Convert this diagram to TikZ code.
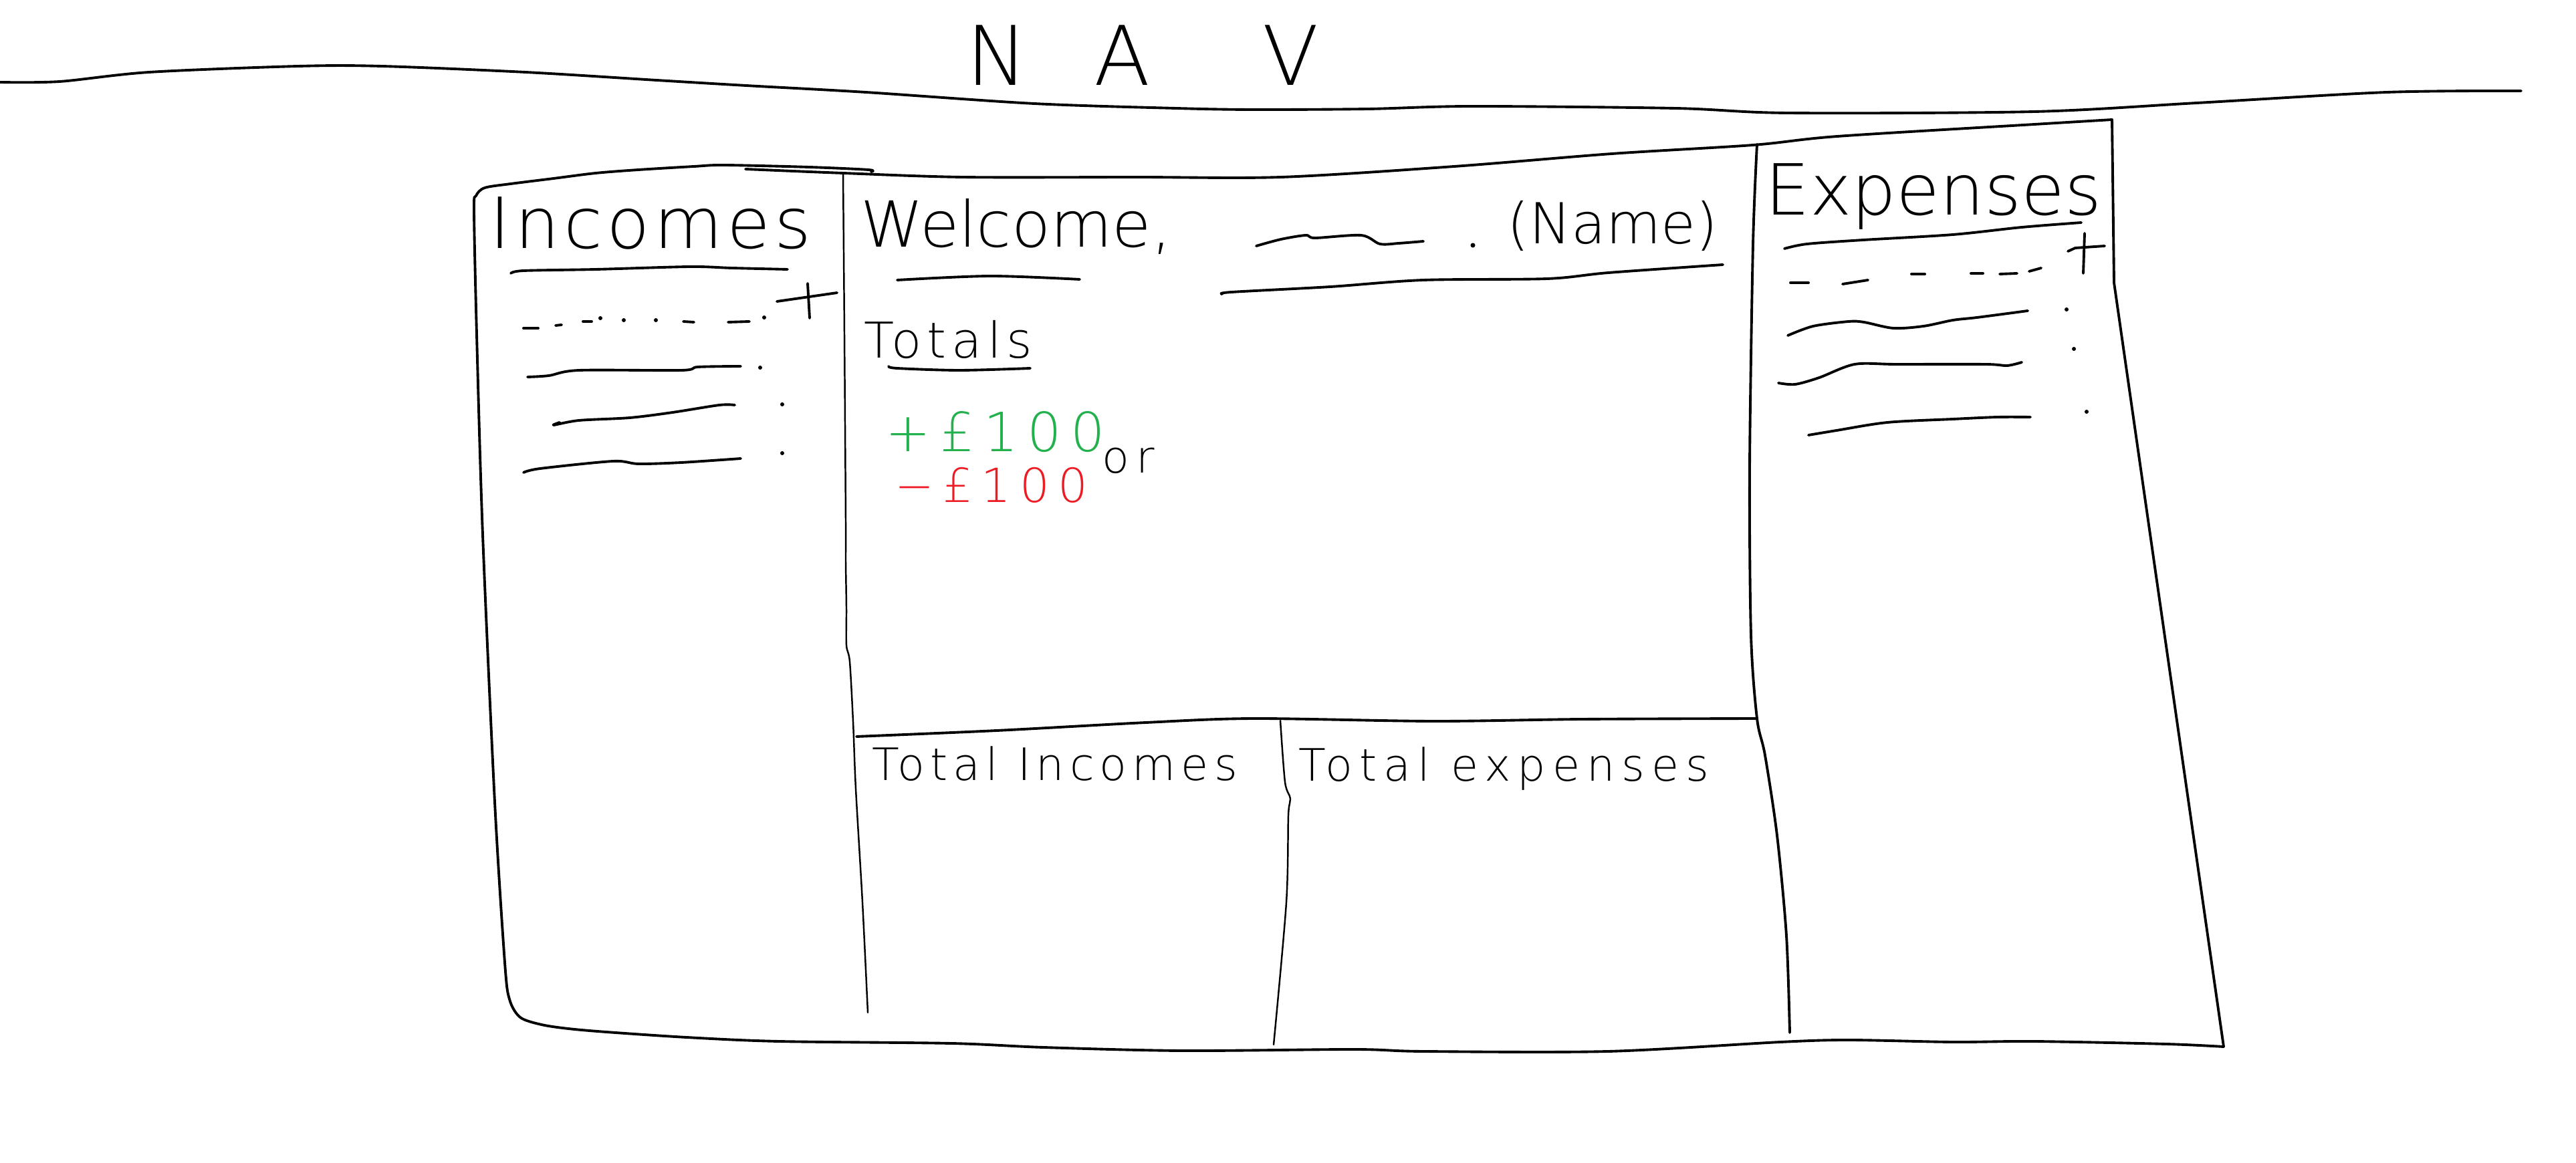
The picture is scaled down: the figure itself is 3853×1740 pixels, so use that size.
\documentclass[tikz,border=0pt]{standalone}
\usepackage{fontspec,xcolor}
\newfontfamily\sketchfont{DejaVuSans-ExtraLight.ttf}
\definecolor{paintgreen}{RGB}{34,177,76}
\definecolor{paintred}{RGB}{237,28,36}

\begin{document}
\begin{tikzpicture}[x=0.01cm,y=-0.01cm,
  pen/.style={line width=1.1pt,line cap=round,line join=round},
  thinpen/.style={line width=0.7pt,line cap=round,line join=round},
  word/.style={inner sep=0pt,anchor=base west},
  head/.style={word,font=\sketchfont\fontsize{30}{34}\selectfont},
  small/.style={word,font=\sketchfont\fontsize{19}{22}\selectfont\addfontfeature{LetterSpace=12}}]
 \useasboundingbox (0,0) rectangle (3853,1740);
 % nav bar
 \draw[pen] plot[smooth] coordinates {(0,123) (89,122) (223,108) (446,99) (571,99) (786,108) (982,120) (1116,128) (1295,138) (1547,155) (1759,162) (1874,164) (2046,163) (2200,159) (2506,162) (2674,169) (3043,167) (3286,154) (3570,138) (3771,136)};
 \node[word,anchor=base west,font=\sketchfont\fontsize{35}{40}\selectfont] (nav) at (1445,128) {N\kern0.8em A\kern1.37em V};
 % outer frame
 \draw[pen] plot[smooth] coordinates {(1303,257) (1299,254) (1210,250) (1083,247) (1038,249) (955,254) (891,259) (828,267) (764,275) (725,281) (712,293) (709,315) (713,500) (722,800) (740,1200) (755,1440) (762,1495) (778,1522) (810,1533) (850,1539) (907,1544) (1027,1552) (1165,1558) (1423,1561) (1561,1567) (1768,1572) (2026,1570) (2129,1573) (2405,1573) (2663,1559) (2766,1556) (2921,1559) (3042,1558) (3240,1562) (3326,1566)};
 \draw[pen] plot[smooth] coordinates {(1115,253) (1261,259) (1440,265) (1700,265) (1916,265) (2175,249) (2411,230) (2622,217) (2748,204) (3043,186) (3159,179)} -- (3162,423) -- (3326,1566);
 % panel dividers
 \draw[thinpen] plot[smooth] coordinates {(1261,259) (1263,500) (1265,780) (1265,840) (1266,910) (1266,965) (1271,990) (1276,1080) (1280,1180) (1290,1350) (1298,1515)};
 \draw[pen] plot[smooth] coordinates {(2628,216) (2622,366) (2617,700) (2619,950) (2628,1075) (2640,1130) (2658,1250) (2672,1400) (2677,1545)};
 \draw[pen] plot[smooth] coordinates {(1281,1102) (1491,1093) (1714,1081) (1875,1075) (2143,1079) (2366,1076) (2628,1075)};
 \draw[thinpen] plot[smooth] coordinates {(1915,1078) (1922,1170) (1930,1195) (1927,1220) (1924,1350) (1905,1563)};
 % incomes column
 \node[head,font=\sketchfont\fontsize{30}{34}\selectfont\addfontfeature{LetterSpace=6}] (incomes) at (732,372) {Incomes};
 \draw[pen] plot[smooth] coordinates {(764,409) (783,405) (891,403) (1032,399) (1095,401) (1178,403)};
 \foreach \xa/\ya/\xb/\yb in {783/491/805/491,831/487/840/486,872/481/885/481,1022/481/1038/482,1089/482/1121/481}
  \draw[pen] (\xa,\ya) -- (\xb,\yb);
 \foreach \xa/\ya in {898/476,933/479,981/479,1143/475,1137/550,1170/605,1170/678}
  \fill (\xa,\ya) circle (3);
 \draw[pen] (1208,424) -- (1211,476); \draw[pen] (1162,451) -- (1252,438);
 \draw[pen] plot[smooth] coordinates {(789,564) (821,562) (866,554) (1019,554) (1044,549) (1108,548)};
 \draw[pen] plot[smooth] coordinates {(837,632) (828,636) (866,629) (942,625) (1006,617) (1076,606) (1099,606)};
 \draw[pen] plot[smooth] coordinates {(783,707) (808,701) (917,690) (955,694) (1019,692) (1108,686)};
 % welcome header
 \node[head,font=\sketchfont\fontsize{27}{30}\selectfont] (welcome) at (1287,370) {Welcome,};
 \draw[pen] plot[smooth] coordinates {(1342,419) (1481,413) (1615,418)};
 \draw[pen] plot[smooth] coordinates {(1879,368) (1916,358) (1953,352) (1967,356) (2036,352) (2064,365) (2092,364) (2129,361)};
 \fill (2203,367) circle (3.5);
 \node[head,font=\sketchfont\fontsize{24}{28}\selectfont] (name) at (2254,365) {(Name)};
 \draw[pen] plot[smooth] coordinates {(1828,440) (1842,437) (1990,429) (2129,419) (2314,417) (2406,408) (2577,396)};
 % totals
 \node[word,font=\sketchfont\fontsize{21}{24}\selectfont\addfontfeature{LetterSpace=11}] (totals) at (1292,536) {Totals};
 \draw[pen] plot[smooth] coordinates {(1329,548) (1342,551) (1435,554) (1541,551)};
 \node[word,text=paintgreen,font=\sketchfont\fontsize{23}{26}\selectfont\addfontfeature{LetterSpace=17}] (plus) at (1324,676) {+£100};
 \node[word,font=\sketchfont\fontsize{19}{22}\selectfont\addfontfeature{LetterSpace=15}] (or) at (1648,708) {or};
 \node[word,text=paintred,font=\sketchfont\fontsize{20}{23}\selectfont\addfontfeature{LetterSpace=18}] (minus) at (1338,752) {−£100};
 % bottom boxes
 \node[small] (totalinc) at (1304,1167) {Total Incomes};
 \node[small,font=\sketchfont\fontsize{19}{22}\selectfont\addfontfeature{LetterSpace=15}] (totalexp) at (1942,1168) {Total expenses};
 % expenses column
 \node[head] (expenses) at (2640,322) {Expenses};
 \draw[pen] plot[smooth] coordinates {(2669,372) (2703,365) (2787,359) (2921,351) (3024,340) (3113,333)};
 \foreach \xa/\ya/\xb/\yb in {2678/423/2705/423,2756/425/2794/419,2859/410/2879/410,2948/409/2966/409,2991/410/3017/409,3035/406/3053/401}
  \draw[pen] (\xa,\ya) -- (\xb,\yb);
 \draw[pen] (3118,349) -- (3116,409); \draw[pen] (3093,376) -- (3104,371) -- (3148,368);
 \draw[pen] plot[smooth] coordinates {(2674,502) (2712,488) (2765,481) (2788,482) (2832,491) (2877,488) (2921,479) (2957,475) (3033,465)};
 \draw[pen] plot[smooth] coordinates {(2660,573) (2685,575) (2721,565) (2774,545) (2837,545) (2970,545) (3002,547) (3024,542)};
 \draw[pen] plot[smooth] coordinates {(2705,651) (2747,644) (2823,632) (2921,627) (2988,624) (3037,624)};
 \foreach \xa/\ya in {3091/463,3102/522,3121/616}
  \fill (\xa,\ya) circle (3);
\end{tikzpicture}
\end{document}
